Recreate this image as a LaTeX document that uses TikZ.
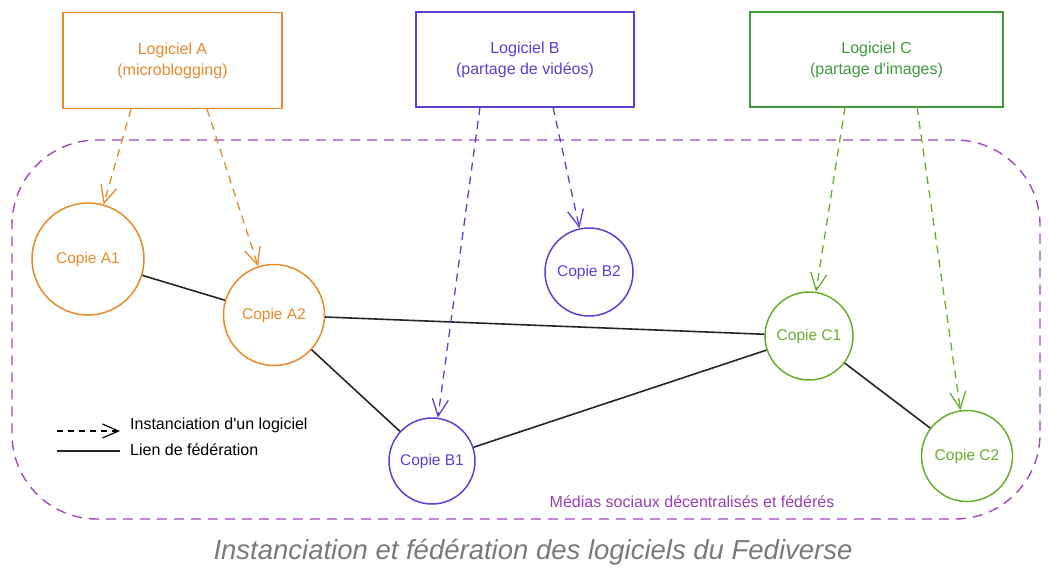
\documentclass[tikz,border=0pt]{standalone}
\usepackage{fontspec}
\setmainfont{Liberation Sans}[Ligatures=TeXOff]
\usetikzlibrary{arrows.meta}
\definecolor{corange}{HTML}{E8892B}
\definecolor{cpurple}{HTML}{5D3FD3}
\definecolor{cgreenbox}{HTML}{3E9B3E}
\definecolor{cgreen}{HTML}{6AAD2E}
\definecolor{cregion}{HTML}{A347C5}
\definecolor{cregiontext}{HTML}{9A3DB8}
\definecolor{ccaption}{HTML}{7A7A7A}
\tikzset{
  softbox/.style={draw, line width=1.8pt, align=center, inner sep=0pt,
    font=\fontsize{16}{21}\selectfont, minimum height=96pt},
  copy/.style={draw, circle, line width=1.5pt, inner sep=0pt,
    font=\fontsize{15.5}{18}\selectfont},
  inst/.style={line width=1.3pt, dash pattern=on 8pt off 6pt,
    -{Straight Barb[length=17pt,width=16pt,line width=1.3pt]}},
  fed/.style={line width=1.6pt, draw=black!85},
  legtext/.style={anchor=west, inner sep=0pt, font=\fontsize{16}{19}\selectfont},
}
\begin{document}
\begin{tikzpicture}[x=1pt,y=-1pt]
\useasboundingbox (0,0) rectangle (1048,571);
% region
\node[draw=cregion, line width=1.4pt, dash pattern=on 10pt off 7pt,
  rounded corners=85pt, minimum width=1028pt, minimum height=379pt, inner sep=0pt]
  (region) at (526,329.5) {};
\node[text=cregiontext, font=\fontsize{16}{19}\selectfont] (regionlabel) at (692,502) {Médias sociaux décentralisés et fédérés};
% software boxes
\node[softbox, draw=corange, text=corange, minimum width=219pt] (boxA) at (172.5,60.5) {Logiciel A\\(microblogging)};
\node[softbox, draw=cpurple, text=cpurple, minimum width=218pt, minimum height=95pt] (boxB) at (525,59.5) {Logiciel B\\(partage de vidéos)};
\node[softbox, draw=cgreenbox, text=cgreenbox, minimum width=253pt, minimum height=95pt] (boxC) at (876.5,59.5) {Logiciel C\\(partage d'images)};
% copies
\node[copy, draw=corange, text=corange, minimum size=112pt] (A1) at (88,259) {Copie A1};
\node[copy, draw=corange, text=corange, minimum size=101pt] (A2) at (274,315) {Copie A2};
\node[copy, draw=cpurple, text=cpurple, minimum size=88pt] (B2) at (589,272) {Copie B2};
\node[copy, draw=cpurple, text=cpurple, minimum size=86pt] (B1) at (432,461) {Copie B1};
\node[copy, draw=cgreen, text=cgreen, minimum size=88pt] (C1) at (809,336) {Copie C1};
\node[copy, draw=cgreen, text=cgreen, minimum size=91pt] (C2) at (967,456) {Copie C2};
% instanciation start points
\coordinate (sA1) at (131,109);
\coordinate (sA2) at (207,109);
\coordinate (sB1) at (480,107);
\coordinate (sB2) at (553,107);
\coordinate (sC1) at (845,107);
\coordinate (sC2) at (917,107);
% federation links
\draw[fed] (A1) -- (A2);
\draw[fed] (A2) -- (C1);
\draw[fed] (A2) -- (B1);
\draw[fed] (B1) -- (C1);
\draw[fed] (C1) -- (C2);
% instanciation arrows
\draw[inst, draw=corange] (sA1) -- (A1);
\draw[inst, draw=corange] (sA2) -- (A2);
\draw[inst, draw=cpurple] (sB1) -- (B1);
\draw[inst, draw=cpurple] (sB2) -- (B2);
\draw[inst, draw=cgreen] (sC1) -- (C1);
\draw[inst, draw=cgreen] (sC2) -- (C2);
% legend
\coordinate (l1a) at (57,431);
\coordinate (l1b) at (120,431);
\coordinate (l2a) at (57,451);
\coordinate (l2b) at (120,451);
\draw[line width=1.2pt, dash pattern=on 6pt off 5pt,
  -{Straight Barb[length=16pt,width=14pt,line width=1.2pt]}] (l1a) -- (l1b);
\draw[fed] (l2a) -- (l2b);
\node[legtext] (leg1) at (130,425) {Instanciation d'un logiciel};
\node[legtext] (leg2) at (130,450) {Lien de fédération};
% caption
\node[text=ccaption, font=\fontsize{27.5}{32}\selectfont\itshape] (caption) at (533,552) {Instanciation et fédération des logiciels du Fediverse};
\end{tikzpicture}
\end{document}
